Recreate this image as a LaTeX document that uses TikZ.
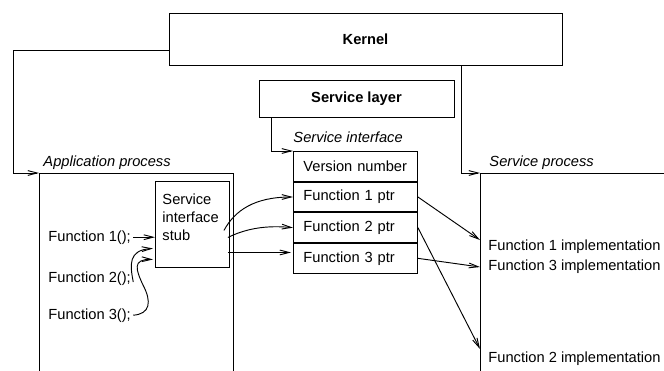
\documentclass[tikz,border=0pt]{standalone}
\usepackage{fontspec}
\setmainfont{Liberation Sans}
\usetikzlibrary{arrows.meta}
\usetikzlibrary{positioning}
\tikzset{>={Straight Barb[length=7pt, width=3.6pt]}}
\tikzset{box/.style = {draw, inner sep = 0, font = \bfseries}}
\tikzset{cell/.style = {draw, minimum width = 93pt, minimum height = 22.3pt,
                        text width = 78pt, inner xsep = 7.5pt, inner ysep = 0, align = left}}
\tikzset{caption/.style = {anchor = base west, inner sep = 0, font = \itshape}}
\tikzset{call/.style = {anchor = base west, inner xsep = 1.5pt, inner ysep = 0}}
\tikzset{impl/.style = {anchor = base west, inner xsep = 6pt, inner ysep = 0}}

\begin{document}
\begin{tikzpicture}[x = 0.75pt, y = -0.75pt, line width = 0.7pt,
                    node font = \fontsize{11pt}{13.6pt}\selectfont]
    \useasboundingbox (0, 0) rectangle (664, 371);

    % kernel and service layer
    \node [box, minimum width = 294.75pt, minimum height = 39pt] (kernel) at (365.5, 39) {Kernel};
    \node [box, minimum width = 146.25pt, minimum height = 27.75pt] (servlayer) at (356.5, 98.5) {Service layer};

    % application process
    \coordinate (appcorner) at (39, 173);
    \coordinate (appleft) at (13, 173);
    \draw (39, 371) -- (appcorner) -- (233, 173) -- (233, 371);
    \node [caption] (applabel) at (43, 166) {Application process};
    \draw [->] ([shift={(0, 11)}]kernel.west) -| (appleft) -- (appcorner);

    \node [draw, anchor = north west, text width = 45pt, inner xsep = 5.25pt, inner ysep = 0,
           text height = 17.25pt, text depth = 47.25pt, align = left] (stub) at (155, 181)
          {Service\\interface\\stub};

    \node [call] (fn1) at (46, 241) {Function 1();};
    \node [call] (fn2) at (46, 282) {Function 2();};
    \node [call] (fn3) at (46, 319) {Function 3();};
    \draw [->] (fn1.east) -- (fn1.east -| stub.west);
    \draw [->] (fn2.base east) .. controls (130, 265) and (128, 250) .. ([shift={(-2, 24)}]stub.west);
    \draw [->] (fn3.east) .. controls (150, 314) and (152, 302) .. (143, 285)
               .. controls (136, 270) and (132, 259) .. ([shift={(-2, 35)}]stub.west);

    % service interface table
    \node [caption] (intlabel) at (293, 142) {Service interface};
    \node [cell, anchor = north west] (row0) at (293, 151) {Version number};
    \node [cell, below = 0pt of row0] (row1) {Function 1 ptr};
    \node [cell, below = 0pt of row1] (row2) {Function 2 ptr};
    \node [cell, below = 0pt of row2] (row3) {Function 3 ptr};
    \draw [->] ([shift={(-85.5, 0)}]servlayer.south) |- (row0.north west);

    \draw [->] ([shift={(-6, 6)}]stub.east) .. controls (235, 210) and (255, 197) .. (row1.west);
    \draw [->] ([shift={(-2, 13)}]stub.east) .. controls (245, 229) and (265, 225) .. (row2.west);
    \draw [->] ([shift={(-2, 28)}]stub.east) -- ([shift={(-2, 28)}]stub.east -| row3.west);

    % service process
    \coordinate (servcorner) at (480, 173);
    \draw (480, 371) -- (servcorner) -- (664, 173);
    \node [caption] (servlabel) at (489, 166) {Service process};
    \draw [->] ([shift={(95.5, 0)}]kernel.south) |- (servcorner);

    \node [impl] (impl1) at (480, 250) {Function 1 implementation};
    \node [impl] (impl3) at (480, 270) {Function 3 implementation};
    \node [impl] (impl2) at (480, 362) {Function 2 implementation};
    \draw [->] (row1.east) -- ([yshift=7.5pt]impl1.base west);
    \draw [->] (row2.east) -- ([yshift=9.75pt]impl2.base west);
    \draw [->] (row3.east) -- ([yshift=2.25pt]impl3.base west);
\end{tikzpicture}
\end{document}
